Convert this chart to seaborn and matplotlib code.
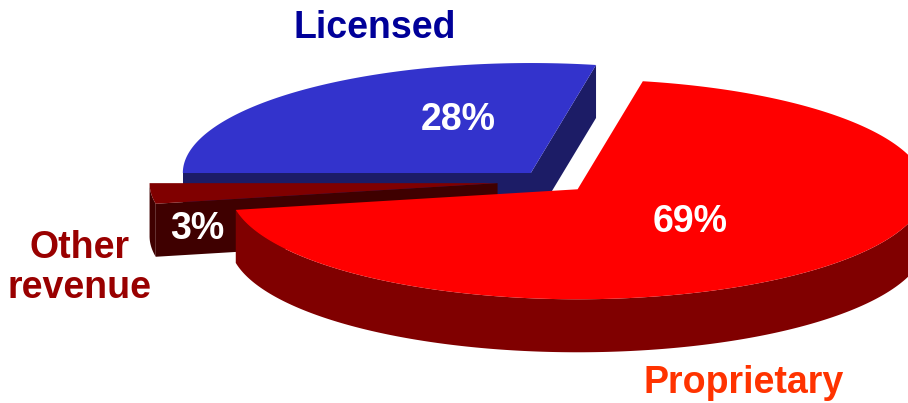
import numpy as np
import matplotlib
matplotlib.use("Agg")
import matplotlib.pyplot as plt
from matplotlib.patches import Polygon
import seaborn as sns

# ---- data ----
categories = ["Licensed", "Other\nrevenue", "Proprietary"]
shares = [28, 3, 69]
pct_labels = [f"{v}%" for v in shares]

# ---- style ----
sns.set_theme(style="white")
plt.rcParams["font.family"] = ["Liberation Sans", "DejaVu Sans"]

top_colors = ["#3333CC", "#800000", "#FF0000"]
wall_colors = ["#1C1C66", "#3F0000", "#800000"]
radial_colors = ["#1C1C66", "#3F0000", "#800000"]
name_colors = ["#000099", "#990000", "#FF3300"]
explode = [0.1, 0.16, 0.1]

CX, CY = 553.0, 181.5      # pie centre (pixels, y downwards)
RX, RY = 348.0, 110.0      # ellipse radii
DEPTH = 53.0
START = 180.0 - 360.0 * shares[0] / sum(shares)   # licensed ends at 180 deg

fig = plt.figure(figsize=(9.08, 4.03), dpi=100)
ax = fig.add_axes([0, 0, 1, 1])
ax.set_xlim(0, 908)
ax.set_ylim(403, 0)
ax.axis("off")


def pt(cx, cy, ang, dz=0.0):
    a = np.radians(ang)
    return (cx + RX * np.cos(a), cy - RY * np.sin(a) + dz)


total = float(sum(shares))
a0 = START
wedges = []
for i, v in enumerate(shares):
    a1 = a0 + 360.0 * v / total
    mid = np.radians((a0 + a1) / 2)
    cx = CX + explode[i] * RX * np.cos(mid)
    cy = CY - explode[i] * RY * np.sin(mid)
    wedges.append((a0, a1, cx, cy))
    a0 = a1

for i, (a1, a2, cx, cy) in enumerate(wedges):
    # radial faces
    if np.cos(np.radians(a1)) > 0:
        p = pt(cx, cy, a1)
        ax.add_patch(Polygon([(cx, cy), p, (p[0], p[1] + DEPTH), (cx, cy + DEPTH)],
                             closed=True, fc=radial_colors[i], ec="none", zorder=i * 3 + 1))
    if np.cos(np.radians(a2)) < 0:
        p = pt(cx, cy, a2)
        ax.add_patch(Polygon([(cx, cy), p, (p[0], p[1] + DEPTH), (cx, cy + DEPTH)],
                             closed=True, fc=radial_colors[i], ec="none", zorder=i * 3 + 1))
    # outer wall (front half only)
    angs = np.linspace(a1, a2, 400)
    front = angs[np.sin(np.radians(angs)) < 0]
    if len(front) > 1:
        topc = [pt(cx, cy, a) for a in front]
        botc = [pt(cx, cy, a, DEPTH) for a in front[::-1]]
        ax.add_patch(Polygon(topc + botc, closed=True, fc=wall_colors[i],
                             ec="none", zorder=i * 3 + 1))
    # top face
    arc = [pt(cx, cy, a) for a in angs]
    ax.add_patch(Polygon([(cx, cy)] + arc, closed=True, fc=top_colors[i],
                         ec="none", zorder=i * 3 + 2))

FS = 27
# percentage labels
pct_pos = [(458, 130), (197, 239), (690, 232)]
for i, (x, y) in enumerate(pct_pos):
    ax.text(x, y, pct_labels[i], ha="center", va="baseline", color="white",
            fontsize=FS, fontweight="bold", zorder=20)

# category labels
ax.text(375, 38, categories[0], ha="center", va="baseline", color=name_colors[0],
        fontsize=FS, fontweight="bold", zorder=20)
ax.text(80, 268, categories[1], ha="center", va="center", color=name_colors[1],
        fontsize=FS, fontweight="bold", linespacing=1.13, zorder=20)
ax.text(744, 393, categories[2], ha="center", va="baseline", color=name_colors[2],
        fontsize=FS, fontweight="bold", zorder=20)

fig.savefig("out.png", dpi=100)
